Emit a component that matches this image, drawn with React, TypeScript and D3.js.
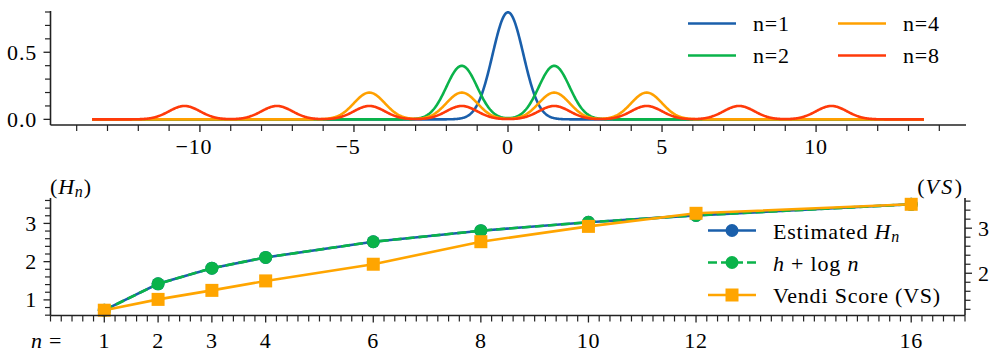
import React from "react";
import * as d3 from "d3";

// ---------- data ----------
const SIGMA = 0.5;
const X_SPAN = [-13.5, 13.5];
const MEANS_N1 = [0];
const MEANS_N2 = [-1.5, 1.5];
const MEANS_N4 = [-4.5, -1.5, 1.5, 4.5];
const MEANS_N8 = [-10.5, -7.5, -4.5, -1.5, 1.5, 4.5, 7.5, 10.5];
const TOP_LABELS = ["n=1", "n=2", "n=4", "n=8"];
const TOP_COLORS = ["#1a5fab", "#0ab34a", "#ffa000", "#ff3a0a"];
const TOP_X_TICKS = [-10, -5, 0, 5, 10];
const TOP_Y_TICKS = [0, 0.5];

const N_VALUES = [1, 2, 3, 4, 6, 8, 10, 12, 16];
const H_EST = [0.73, 1.42, 1.83, 2.11, 2.52, 2.81, 3.03, 3.21, 3.5];
const H_LOGN = [0.73, 1.42, 1.83, 2.11, 2.52, 2.81, 3.03, 3.21, 3.5];
const VS = [1.18, 1.42, 1.62, 1.83, 2.2, 2.7, 3.04, 3.33, 3.53];
const LEFT_TICKS = [1, 2, 3];
const RIGHT_TICKS = [2, 3];

const BLUE = "#1a5fab";
const GREEN = "#0ab34a";
const ORANGE = "#ffa500";

const FONT = "Liberation Serif, Times New Roman, serif";
const FS = 22;
const LS = 0.8;

function padDomain(vals: number[]): [number, number] {
  const [a, b] = d3.extent(vals) as [number, number];
  const m = (b - a) * 0.05;
  return [a - m, b + m];
}

export default function App() {
  const W = 997, H = 358;
  const xTop = d3.scaleLinear().domain([-14.85, 14.85]).range([50.5, 965.5]);
  const yTop = d3.scaleLinear().domain([-0.042, 0.8]).range([125, 12]);
  const xBot = d3.scaleLinear().domain([0, 17]).range([50.5, 965]);
  const yL = d3.scaleLinear().domain(padDomain([...H_EST, ...H_LOGN])).range([315.5, 199]);
  const yR = d3.scaleLinear().domain(padDomain(VS)).range([315.5, 199]);

  const mixtures = [MEANS_N1, MEANS_N2, MEANS_N4, MEANS_N8];
  const xs = d3.range(X_SPAN[0], X_SPAN[1] + 1e-9, 0.02);
  const pdf = (x: number, means: number[]) =>
    d3.sum(means, (m) => Math.exp(-((x - m) ** 2) / (2 * SIGMA * SIGMA))) /
    (means.length * SIGMA * Math.sqrt(2 * Math.PI));
  const topLine = (means: number[]) =>
    d3
      .line<number>()
      .x((x) => xTop(x))
      .y((x) => yTop(pdf(x, means)))(xs) as string;

  const lineL = d3
    .line<number>()
    .x((_, i) => xBot(N_VALUES[i]))
    .y((v) => yL(v));
  const lineR = d3
    .line<number>()
    .x((_, i) => xBot(N_VALUES[i]))
    .y((v) => yR(v));

  const axisColor = "#222";
  const sw = 1.6;

  const topMinorX = d3.range(-14, 14.001, 1).filter((v) => !TOP_X_TICKS.includes(v));
  const topMinorY = d3.range(0, 0.8001, 0.1).map((v) => +v.toFixed(2)).filter((v) => !TOP_Y_TICKS.includes(v));
  const botMinorX = d3.range(0, 17.001, 0.2).map((v) => +v.toFixed(2)).filter((v) => !N_VALUES.includes(v));
  const [l0, l1] = yL.domain();
  const leftMinor = d3.range(Math.ceil(l0 * 5) / 5, l1, 0.2).map((v) => +v.toFixed(2)).filter((v) => !LEFT_TICKS.includes(v));
  const [r0, r1] = yR.domain();
  const rightMinor = d3.range(Math.ceil(r0 * 5) / 5, r1, 0.2).map((v) => +v.toFixed(2)).filter((v) => !RIGHT_TICKS.includes(v));

  const fmtMinus = (v: number) => (v < 0 ? "\u2212" + Math.abs(v) : String(v));

  const legTop = [
    { x: 688, y: 23.5, i: 0 },
    { x: 688, y: 55.5, i: 1 },
    { x: 838, y: 23.5, i: 2 },
    { x: 838, y: 55.5, i: 3 },
  ];

  const legY = [230.5, 262.5, 295];

  return (
    <svg
      width={W}
      height={H}
      viewBox={`0 0 ${W} ${H}`}
      style={{ position: "absolute", left: 0, top: 0, background: "#fff", fontFamily: FONT, fontSize: FS, letterSpacing: LS }}
    >
      <rect x={0} y={0} width={W} height={H} fill="#fff" />
      {/* ---------- TOP PANEL ---------- */}
      {mixtures.map((m, i) => (
        <path key={i} d={topLine(m)} fill="none" stroke={TOP_COLORS[i]} strokeWidth={2.6} strokeLinejoin="round" />
      ))}
      <line x1={50.5} x2={50.5} y1={11} y2={125} stroke={axisColor} strokeWidth={sw} />
      <line x1={50.5} x2={966} y1={125} y2={125} stroke={axisColor} strokeWidth={sw} />
      {TOP_X_TICKS.map((v) => (
        <g key={v}>
          <line x1={xTop(v)} x2={xTop(v)} y1={125} y2={132} stroke={axisColor} strokeWidth={1.3} />
          <text x={xTop(v) - (v < 0 ? 6 : 0)} y={146} textAnchor="middle" dominantBaseline="central">
            {fmtMinus(v)}
          </text>
        </g>
      ))}
      {topMinorX.map((v) => (
        <line key={v} x1={xTop(v)} x2={xTop(v)} y1={125} y2={131} stroke={axisColor} strokeWidth={1.2} />
      ))}
      {TOP_Y_TICKS.map((v) => (
        <g key={v}>
          <line x1={43.5} x2={50.5} y1={yTop(v)} y2={yTop(v)} stroke={axisColor} strokeWidth={1.3} />
          <text x={37} y={yTop(v)} textAnchor="end" dominantBaseline="central">
            {v.toFixed(1)}
          </text>
        </g>
      ))}
      {topMinorY.map((v) => (
        <line key={v} x1={45} x2={50.5} y1={yTop(v)} y2={yTop(v)} stroke={axisColor} strokeWidth={1.2} />
      ))}
      {legTop.map((e) => (
        <g key={e.i}>
          <line x1={e.x} x2={e.x + 48} y1={e.y} y2={e.y} stroke={TOP_COLORS[e.i]} strokeWidth={2.6} />
          <text x={e.x + 65} y={e.y} dominantBaseline="central">
            {TOP_LABELS[e.i]}
          </text>
        </g>
      ))}

      {/* ---------- BOTTOM PANEL ---------- */}
      <path d={lineL(H_EST) as string} fill="none" stroke={BLUE} strokeWidth={2.6} />
      {H_EST.map((v, i) => (
        <circle key={i} cx={xBot(N_VALUES[i])} cy={yL(v)} r={6.5} fill={BLUE} />
      ))}
      <path d={lineL(H_LOGN) as string} fill="none" stroke={GREEN} strokeWidth={2.6} strokeDasharray="9,4" />
      {H_LOGN.map((v, i) => (
        <circle key={i} cx={xBot(N_VALUES[i])} cy={yL(v)} r={6.5} fill={GREEN} />
      ))}
      <path d={lineR(VS) as string} fill="none" stroke={ORANGE} strokeWidth={2.6} />
      {VS.map((v, i) => (
        <rect key={i} x={xBot(N_VALUES[i]) - 6.5} y={yR(v) - 6.5} width={13} height={13} fill={ORANGE} />
      ))}

      {/* spines */}
      <line x1={50.5} x2={50.5} y1={198} y2={315.5} stroke={axisColor} strokeWidth={sw} />
      <line x1={965} x2={965} y1={198} y2={315.5} stroke={axisColor} strokeWidth={sw} />
      <line x1={50.5} x2={965} y1={315.5} y2={315.5} stroke={axisColor} strokeWidth={sw} />
      {N_VALUES.map((v) => (
        <g key={v}>
          <line x1={xBot(v)} x2={xBot(v)} y1={315.5} y2={322.5} stroke={axisColor} strokeWidth={1.3} />
          <text x={xBot(v)} y={340} textAnchor="middle" dominantBaseline="central">
            {v}
          </text>
        </g>
      ))}
      {botMinorX.map((v) => (
        <line key={v} x1={xBot(v)} x2={xBot(v)} y1={315.5} y2={321.5} stroke={axisColor} strokeWidth={1.2} />
      ))}
      {LEFT_TICKS.map((v) => (
        <g key={v}>
          <line x1={43.5} x2={50.5} y1={yL(v)} y2={yL(v)} stroke={axisColor} strokeWidth={1.3} />
          <text x={37} y={yL(v)} textAnchor="end" dominantBaseline="central">
            {v}
          </text>
        </g>
      ))}
      {leftMinor.map((v) => (
        <line key={v} x1={45} x2={50.5} y1={yL(v)} y2={yL(v)} stroke={axisColor} strokeWidth={1.2} />
      ))}
      {RIGHT_TICKS.map((v) => (
        <g key={v}>
          <line x1={965} x2={972} y1={yR(v)} y2={yR(v)} stroke={axisColor} strokeWidth={1.3} />
          <text x={978} y={yR(v)} textAnchor="start" dominantBaseline="central">
            {v}
          </text>
        </g>
      ))}
      {rightMinor.map((v) => (
        <line key={v} x1={965} x2={970.5} y1={yR(v)} y2={yR(v)} stroke={axisColor} strokeWidth={1.2} />
      ))}

      <text x={31} y={340} dominantBaseline="central">
        <tspan fontStyle="italic">n</tspan>
        <tspan> =</tspan>
      </text>
      <text x={50} y={186} dominantBaseline="central">
        <tspan>(</tspan>
        <tspan fontStyle="italic">H</tspan>
        <tspan fontStyle="italic" fontSize={16} dy={5}>n</tspan>
        <tspan dy={-5}>)</tspan>
      </text>
      <text x={963} y={186} textAnchor="end" dominantBaseline="central">
        <tspan>(</tspan>
        <tspan fontStyle="italic" letterSpacing={2.5}>VS</tspan>
        <tspan>)</tspan>
      </text>

      {/* legend */}
      <rect x={700} y={221} width={245} height={92} fill="#fff" />
      <line x1={708} x2={756} y1={legY[0]} y2={legY[0]} stroke={BLUE} strokeWidth={2.6} />
      <circle cx={732} cy={legY[0]} r={6.5} fill={BLUE} />
      <text x={773} y={legY[0]} dominantBaseline="central">
        <tspan>Estimated </tspan>
        <tspan fontStyle="italic">H</tspan>
        <tspan fontStyle="italic" fontSize={16} dy={5}>n</tspan>
      </text>
      <line x1={708} x2={756} y1={legY[1]} y2={legY[1]} stroke={GREEN} strokeWidth={2.6} strokeDasharray="9,4" />
      <circle cx={732} cy={legY[1]} r={6.5} fill={GREEN} />
      <text x={773} y={legY[1]} dominantBaseline="central">
        <tspan fontStyle="italic">h</tspan>
        <tspan> + log </tspan>
        <tspan fontStyle="italic">n</tspan>
      </text>
      <line x1={708} x2={756} y1={legY[2]} y2={legY[2]} stroke={ORANGE} strokeWidth={2.6} />
      <rect x={725.5} y={legY[2] - 6.5} width={13} height={13} fill={ORANGE} />
      <text x={773} y={legY[2]} dominantBaseline="central">
        Vendi Score (VS)
      </text>
    </svg>
  );
}
